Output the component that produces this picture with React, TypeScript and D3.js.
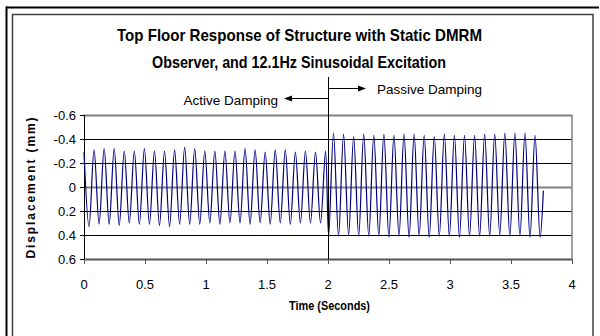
import React, { useEffect, useRef } from "react";
import * as d3 from "d3";

// tick labels
const yTicks = [-0.6, -0.4, -0.2, 0, 0.2, 0.4, 0.6];
const xTicks = [0, 0.5, 1, 1.5, 2, 2.5, 3, 3.5, 4];

// extremes of the response (mm)
// active damping: peak at t=0 then trough/peak alternating
const activePeaks = [-0.29, -0.31, -0.32, -0.32, -0.30, -0.30, -0.32, -0.30, -0.30, -0.31, -0.33, -0.32, -0.30,
  -0.30, -0.30, -0.30, -0.32, -0.31, -0.29, -0.31, -0.31, -0.29, -0.30, -0.29, -0.30];
const activeTroughs = [0.33, 0.31, 0.31, 0.32, 0.30, 0.31, 0.31, 0.32, 0.33, 0.31, 0.31, 0.31, 0.30, 0.31,
  0.30, 0.30, 0.31, 0.30, 0.31, 0.30, 0.31, 0.30, 0.30, 0.30];
// passive damping
const passiveFirstTrough = 0.41;
const passivePeaks = [-0.45, -0.44, -0.42, -0.44, -0.43, -0.44, -0.43, -0.44, -0.44, -0.43, -0.42, -0.44, -0.43,
  -0.43, -0.43, -0.44, -0.44, -0.45, -0.45, -0.45, -0.43];
const passiveTroughs = [0.41, 0.40, 0.41, 0.41, 0.41, 0.42, 0.41, 0.42, 0.41, 0.42, 0.41, 0.41, 0.42, 0.41,
  0.41, 0.41, 0.40, 0.41, 0.41, 0.42, 0.42];
const lastValue = 0.03;

const activePeriod = 0.0825;
const passiveStart = 2.045;
const passivePeriod = 0.0826;
const switchTime = 2;

function App() {
  const ref = useRef<SVGSVGElement>(null);

  useEffect(() => {
    const svg = d3.select(ref.current);
    svg.selectAll("*").remove();

    const font = "'Liberation Sans', Arial, sans-serif";
    const left = 84, right = 572, top = 115, bottom = 259;

    const x = d3.scaleLinear().domain([0, 4]).range([left, right]);
    const y = d3.scaleLinear().domain([-0.6, 0.6]).range([top, bottom]);

    // build the points
    let pts: [number, number][] = [];
    activePeaks.forEach((p, i) => {
      pts.push([i * activePeriod, p]);
      if (i < activeTroughs.length) pts.push([(i + 0.5) * activePeriod, activeTroughs[i]]);
    });
    pts.push([switchTime + 0.005, passiveFirstTrough]);
    passivePeaks.forEach((p, i) => {
      pts.push([passiveStart + i * passivePeriod, p]);
      pts.push([passiveStart + (i + 0.5) * passivePeriod, passiveTroughs[i]]);
    });
    pts.push([pts[pts.length - 1][0] + 0.027, lastValue]);

    // outer frame
    svg.append("line").attr("x1", 6).attr("x2", 599).attr("y1", 7.5).attr("y2", 7.5)
      .attr("stroke", "#000").attr("stroke-width", 2);
    svg.append("line").attr("x1", 6.5).attr("x2", 6.5).attr("y1", 6.5).attr("y2", 336)
      .attr("stroke", "#000").attr("stroke-width", 2);
    svg.append("path").attr("d", "M12.5,340 V14.5 H593 V340")
      .attr("fill", "none").attr("stroke", "#404040").attr("stroke-width", 1.5);

    // gridlines
    yTicks.forEach(t => {
      let col = "#000", w = 1;
      if (t === -0.6 || t === 0) { col = "#808080"; w = 2; }
      if (t === 0.6) { col = "#555"; w = 2; }
      svg.append("line").attr("x1", left).attr("x2", right)
        .attr("y1", Math.round(y(t)) + 0.5).attr("y2", Math.round(y(t)) + 0.5)
        .attr("stroke", col).attr("stroke-width", w);
    });
    svg.append("line").attr("x1", right).attr("x2", right).attr("y1", top).attr("y2", bottom)
      .attr("stroke", "#808080").attr("stroke-width", 1.5);

    // y axis
    svg.append("line").attr("x1", left + 0.5).attr("x2", left + 0.5).attr("y1", top).attr("y2", bottom + 1)
      .attr("stroke", "#000");
    yTicks.forEach(t => {
      svg.append("line").attr("x1", left - 4).attr("x2", left).attr("y1", Math.round(y(t)) + 0.5)
        .attr("y2", Math.round(y(t)) + 0.5).attr("stroke", "#000");
      svg.append("text").attr("x", 76).attr("y", y(t) + 4.5).attr("text-anchor", "end")
        .attr("font-family", font).attr("font-size", "13px").text(String(t));
    });

    // x axis ticks
    xTicks.forEach(t => {
      svg.append("line").attr("x1", Math.round(x(t)) + 0.5).attr("x2", Math.round(x(t)) + 0.5)
        .attr("y1", bottom).attr("y2", bottom + 5).attr("stroke", "#555");
      svg.append("text").attr("x", x(t)).attr("y", 289).attr("text-anchor", "middle")
        .attr("font-family", font).attr("font-size", "13px").text(String(t));
    });

    // the response
    const line = d3.line<[number, number]>()
      .x(d => x(d[0])).y(d => y(d[1]))
      .curve(d3.curveCatmullRom.alpha(0.5));
    svg.append("path").datum(pts).attr("d", line)
      .attr("fill", "none").attr("stroke", "#000080").attr("stroke-width", 1.2);

    // switch marker and arrows
    const xs = Math.round(x(switchTime)) + 0.5;
    svg.append("line").attr("x1", xs).attr("x2", xs).attr("y1", 77).attr("y2", bottom)
      .attr("stroke", "#000");
    svg.append("line").attr("x1", xs).attr("x2", 360).attr("y1", 88.5).attr("y2", 88.5).attr("stroke", "#000");
    svg.append("path").attr("d", "M366,88.5 L358,85.5 L358,91.5 Z").attr("fill", "#000");
    svg.append("line").attr("x1", xs).attr("x2", 290).attr("y1", 98.5).attr("y2", 98.5).attr("stroke", "#000");
    svg.append("path").attr("d", "M284,98.5 L292,95.5 L292,101.5 Z").attr("fill", "#000");
    svg.append("text").attr("x", 377).attr("y", 94).attr("font-family", font).attr("font-size", "13.5px")
      .text("Passive Damping");
    svg.append("text").attr("x", 278).attr("y", 105).attr("text-anchor", "end").attr("font-family", font)
      .attr("font-size", "13.5px").text("Active Damping");

    // titles
    svg.append("text").attr("x", 117).attr("y", 41).attr("font-family", font)
      .attr("font-size", "17px").attr("font-weight", "bold")
      .attr("textLength", 365).attr("lengthAdjust", "spacingAndGlyphs")
      .text("Top Floor Response of Structure with Static DMRM");
    svg.append("text").attr("x", 152).attr("y", 68).attr("font-family", font)
      .attr("font-size", "17px").attr("font-weight", "bold")
      .attr("textLength", 294).attr("lengthAdjust", "spacingAndGlyphs")
      .text("Observer, and 12.1Hz Sinusoidal Excitation");
    svg.append("text").attr("x", 289).attr("y", 310).attr("font-family", font)
      .attr("font-size", "12.5px").attr("font-weight", "bold")
      .attr("textLength", 81).attr("lengthAdjust", "spacingAndGlyphs").text("Time (Seconds)");
    svg.append("text").attr("transform", "translate(35,187) rotate(-90)").attr("text-anchor", "middle")
      .attr("font-family", font).attr("font-size", "12px").attr("font-weight", "bold")
      .attr("letter-spacing", "1.9px").text("Displacement (mm)");
  }, []);

  return (
    <svg ref={ref} width={600} height={336} style={{ position: "absolute", left: 0, top: 0, background: "#fff" }} />
  );
}

export default App;
